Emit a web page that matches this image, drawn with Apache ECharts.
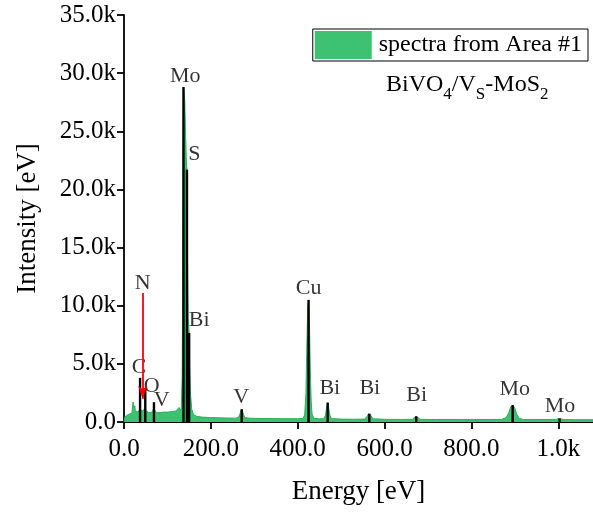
<!DOCTYPE html>
<html>
<head>
<meta charset="utf-8">
<script src="https://cdn.jsdelivr.net/npm/echarts@6/dist/echarts.min.js"></script>
<style>html,body{margin:0;padding:0;background:#fff}#c{width:593px;height:515px}</style>
</head>
<body>
<div id="c"></div>
<script>
// Spectrum (energy eV, intensity counts)
var spectrum = [
 [0,0],[2,450],[6,600],[10,650],[14,700],[18,750],[20,1450],[21,1720],[23,1200],[25,1400],[26,950],[29,800],[33,850],
 [36,1100],[37,1400],[38,1050],[41,900],[44,950],[46,850],[48,1050],[49,1300],[50,1000],[53,850],[57,800],
 [61,820],[65,850],[68,1150],[69,1350],[70,1100],[73,850],[78,800],[85,820],[92,850],[100,850],[108,880],
 [115,920],[120,950],[124,1100],[127,1250],[130,1000],[132,1200],[134,4000],[135,12000],[136,24000],
 [137,28800],[138,28500],[140,27500],[142,24500],[144,22000],[145,21800],[146,15000],[148,9000],[150,7700],
 [151,5000],[153,2500],[156,1100],[160,650],[168,480],[180,420],[200,380],[220,360],[240,340],[258,330],
 [264,420],[268,800],[271,1100],[274,800],[278,380],[290,320],[320,300],[350,290],[380,280],[400,280],
 [412,310],[416,600],[419,2500],[421,6500],[423,9800],[425,10500],[427,8500],[429,4500],[431,1800],
 [433,700],[437,330],[450,270],[460,290],[464,600],[467,1300],[469,1650],[471,1300],[474,600],[478,290],
 [500,250],[530,240],[555,250],[559,450],[563,700],[566,720],[569,550],[573,280],[600,230],[640,220],
 [664,230],[669,400],[673,500],[677,380],[682,230],[720,210],[780,210],[840,210],[870,230],[880,380],
 [886,800],[891,1350],[895,1450],[899,1300],[904,700],[910,320],[920,220],[960,210],[995,220],[1000,290],
 [1003,320],[1006,280],[1011,210],[1040,200],[1080,200]
];
// Reference peak sticks (energy, intensity)
var stickEnergy = [37, 49, 69, 137, 145, 150, 271, 425, 469, 565, 673, 895, 1003];
var stickHeight = [3800, 2800, 1700, 28800, 21700, 7660, 1100, 10500, 1670, 720, 500, 1460, 300];
// Element labels: name, energy, intensity (label anchor in data space)
var labelNames  = ['C','O','V','Mo','S','Bi','N','V','Cu','Bi','Bi','Bi','Mo','Mo'];
var labelEnergy = [35, 64, 87, 141, 162, 173, 43, 270, 425, 474, 566, 674, 900, 1004];
var labelHeight = [4730, 3070, 1870, 29700, 23000, 8750, 11900, 2150, 11500, 2870, 2870, 2300, 2800, 1380];
// Nitrogen arrow (energy, from intensity, to intensity)
var arrowN = [43, 11100, 2000];
var xTicks = [0, 200, 400, 600, 800, 1000];
var yTicks = [0, 5000, 10000, 15000, 20000, 25000, 30000, 35000];
var seriesName = 'spectra from Area #1';

var FONT = '"Liberation Serif","Times New Roman",serif';
var GREEN = '#3DC272';
var chart = echarts.init(document.getElementById('c'), null, {renderer:'canvas'});

function fmtK(v){ return v >= 1000 ? (v/1000).toFixed(1)+'k' : v.toFixed(1); }

var sticks = stickEnergy.map(function(e,i){ return [e, stickHeight[i]]; });
var labels = labelNames.map(function(n,i){ return {name:n, value:[labelEnergy[i], labelHeight[i]]}; });

chart.setOption({
  animation:false,
  backgroundColor:'#fff',
  textStyle:{fontFamily:FONT},
  grid:{left:124, right:0, top:15, bottom:93, containLabel:false},
  legend:{
    data:[{name:seriesName, icon:'rect'}],
    right:5, top:29, orient:'horizontal',
    itemWidth:57, itemHeight:28, itemGap:0,
    padding:[2,6,2,2],
    borderColor:'#000', borderWidth:1,
    textStyle:{fontFamily:FONT, fontSize:24, color:'#000', padding:[0,0,0,2]},
    selectedMode:false
  },
  graphic:[{
    type:'text', left:386, top:73,
    style:{
      text:'{n|BiVO}{s|4}{n|/V}{s|S}{n|-MoS}{s|2}',
      rich:{
        n:{fontFamily:FONT, fontSize:24, color:'#000', lineHeight:27, verticalAlign:'bottom'},
        s:{fontFamily:FONT, fontSize:17, color:'#000', lineHeight:19, verticalAlign:'bottom', padding:[0,0,-6,0]}
      }
    }
  }],
  xAxis:{
    type:'value', min:0, max:1080, interval:200,
    name:'Energy [eV]', nameLocation:'middle', nameGap:56,
    nameTextStyle:{fontFamily:FONT, fontSize:27, color:'#000'},
    axisLine:{show:true, onZero:false, lineStyle:{color:'#000', width:1.8}},
    axisTick:{show:true, inside:false, length:7, lineStyle:{color:'#000', width:1.8}},
    axisLabel:{fontFamily:FONT, fontSize:25, color:'#000', margin:15, formatter:fmtK, showMaxLabel:false},
    splitLine:{show:false}
  },
  yAxis:{
    type:'value', min:0, max:35000, interval:5000,
    name:'Intensity [eV]', nameLocation:'middle', nameGap:83, nameRotate:90,
    nameTextStyle:{fontFamily:FONT, fontSize:27, color:'#000'},
    axisLine:{show:true, lineStyle:{color:'#000', width:1.8}},
    axisTick:{show:true, inside:false, length:7, lineStyle:{color:'#000', width:1.8}},
    axisLabel:{fontFamily:FONT, fontSize:25, color:'#000', margin:8, formatter:fmtK},
    splitLine:{show:false}
  },
  series:[
    {
      name:seriesName, type:'line', data:spectrum, symbol:'none', smooth:false,
      lineStyle:{color:'#2FAE60', width:1},
      itemStyle:{color:GREEN},
      areaStyle:{color:GREEN, opacity:1},
      z:2,
      markLine:{
        silent:true, symbol:['none','arrow'], symbolSize:[7,13],
        label:{show:false},
        lineStyle:{color:'#FF0000', width:1.8, type:'solid'},
        data:[[{coord:[arrowN[0], arrowN[1]]},{coord:[arrowN[0], arrowN[2]]}]],
        z:6
      }
    },
    {
      name:'sticks', type:'bar', data:sticks, barWidth:2.4,
      itemStyle:{color:'#000'}, z:3, silent:true
    },
    {
      name:'labels', type:'scatter', data:labels, symbolSize:0, silent:true,
      label:{show:true, position:'inside', formatter:'{b}', fontFamily:FONT, fontSize:22, color:'#000'},
      z:5
    }
  ]
});
</script>
</body>
</html>
